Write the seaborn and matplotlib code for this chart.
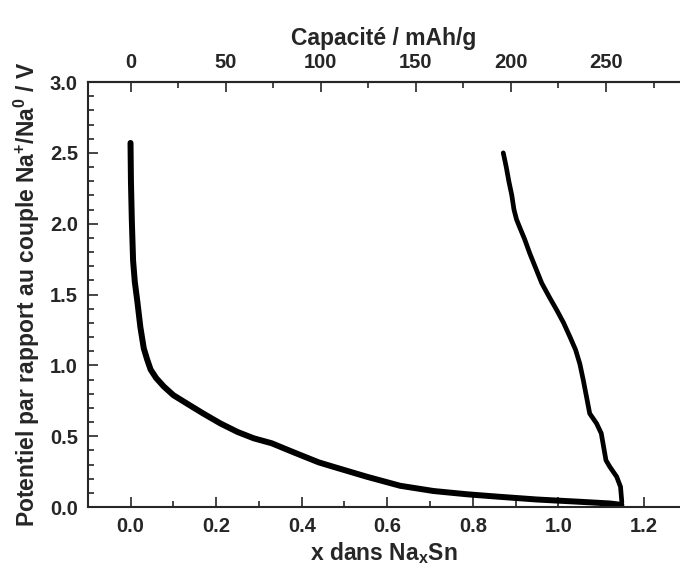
import numpy as np
import pandas as pd
import seaborn as sns
import matplotlib.pyplot as plt
from matplotlib.ticker import MultipleLocator, FixedLocator, FormatStrFormatter

# discharge (sodiation) curve
x_dis = [0.000, 0.001, 0.003, 0.006, 0.010, 0.016, 0.023, 0.031, 0.039, 0.047,
         0.060, 0.078, 0.100, 0.132, 0.170, 0.210, 0.250, 0.288, 0.330, 0.366,
         0.397, 0.440, 0.474, 0.552, 0.630, 0.708, 0.786, 0.863, 0.950, 1.050,
         1.120, 1.147]
v_dis = [2.57, 2.30, 2.03, 1.74, 1.59, 1.45, 1.27, 1.12, 1.04, 0.97,
         0.91, 0.85, 0.79, 0.73, 0.66, 0.59, 0.53, 0.485, 0.45, 0.405,
         0.367, 0.315, 0.284, 0.214, 0.150, 0.113, 0.090, 0.072, 0.053, 0.037,
         0.025, 0.015]

# charge (desodiation) curve
x_cha = [1.147, 1.148, 1.145, 1.136, 1.120, 1.111, 1.100, 1.089, 1.073, 1.067,
         1.058, 1.050, 1.040, 1.027, 1.012, 0.996, 0.979, 0.961, 0.947, 0.933,
         0.921, 0.910, 0.902, 0.896, 0.891, 0.884, 0.878, 0.871]
v_cha = [0.015, 0.037, 0.143, 0.214, 0.284, 0.330, 0.520, 0.590, 0.660, 0.755,
         0.896, 1.010, 1.110, 1.200, 1.300, 1.390, 1.480, 1.580, 1.685, 1.790,
         1.890, 1.970, 2.030, 2.100, 2.200, 2.300, 2.400, 2.500]

cap_factor = 225.0  # mAh/g per Na
cap_ticks = [0, 50, 100, 150, 200, 250]

sns.set_theme(style="ticks")
plt.rcParams['font.family'] = ['Liberation Sans', 'DejaVu Sans']
plt.rcParams['font.weight'] = 'bold'
plt.rcParams['mathtext.fontset'] = 'custom'
plt.rcParams['mathtext.rm'] = 'Liberation Sans:bold'
plt.rcParams['mathtext.it'] = 'Liberation Sans:bold'
plt.rcParams['mathtext.bf'] = 'Liberation Sans:bold'

fig = plt.figure(figsize=(6.8, 5.72), dpi=100)
ax = fig.add_axes([0.129, 0.1136, 0.871, 0.743])

dis = pd.DataFrame({'x': x_dis, 'V': v_dis})
cha = pd.DataFrame({'x': x_cha, 'V': v_cha})
sns.lineplot(data=dis, x='x', y='V', sort=False, color='black', lw=4.3, ax=ax)
sns.lineplot(data=cha, x='x', y='V', sort=False, color='black', lw=3.4, ax=ax)

ax.set_xlim(-0.1, 1.284)
ax.set_ylim(0, 3.0)
ax.xaxis.set_major_locator(MultipleLocator(0.2))
ax.xaxis.set_minor_locator(MultipleLocator(0.1))
ax.yaxis.set_major_locator(MultipleLocator(0.5))
ax.yaxis.set_minor_locator(MultipleLocator(0.1))
ax.xaxis.set_major_formatter(FormatStrFormatter('%.1f'))
ax.yaxis.set_major_formatter(FormatStrFormatter('%.1f'))
ax.spines['right'].set_visible(False)
for s in ['left', 'bottom', 'top']:
    ax.spines[s].set_linewidth(1.5)
ax.tick_params(which='both', direction='in', width=1.2, labelsize=14.5, pad=7)
ax.tick_params(which='major', length=7)
ax.tick_params(which='minor', length=4)
ax.set_xlabel('x dans Na$_{x}$Sn', fontsize=16.5, fontweight='bold', labelpad=3)
ax.set_ylabel('Potentiel par rapport au couple Na$^{+}$/Na$^{0}$ / V',
              fontsize=16.5, fontweight='bold', labelpad=6)

top = ax.secondary_xaxis('top', functions=(lambda x: x * cap_factor,
                                           lambda c: c / cap_factor))
top.xaxis.set_major_locator(FixedLocator(cap_ticks))
top.xaxis.set_minor_locator(FixedLocator([25, 75, 125, 175, 225, 275]))
top.tick_params(which='both', direction='in', width=1.2, labelsize=14.5, pad=7)
top.tick_params(which='major', length=7)
top.tick_params(which='minor', length=4)
top.spines['top'].set_linewidth(1.5)
top.set_xlabel('Capacité / mAh/g', fontsize=16.5, fontweight='bold', labelpad=6)

fig.savefig('out.png', dpi=100)
